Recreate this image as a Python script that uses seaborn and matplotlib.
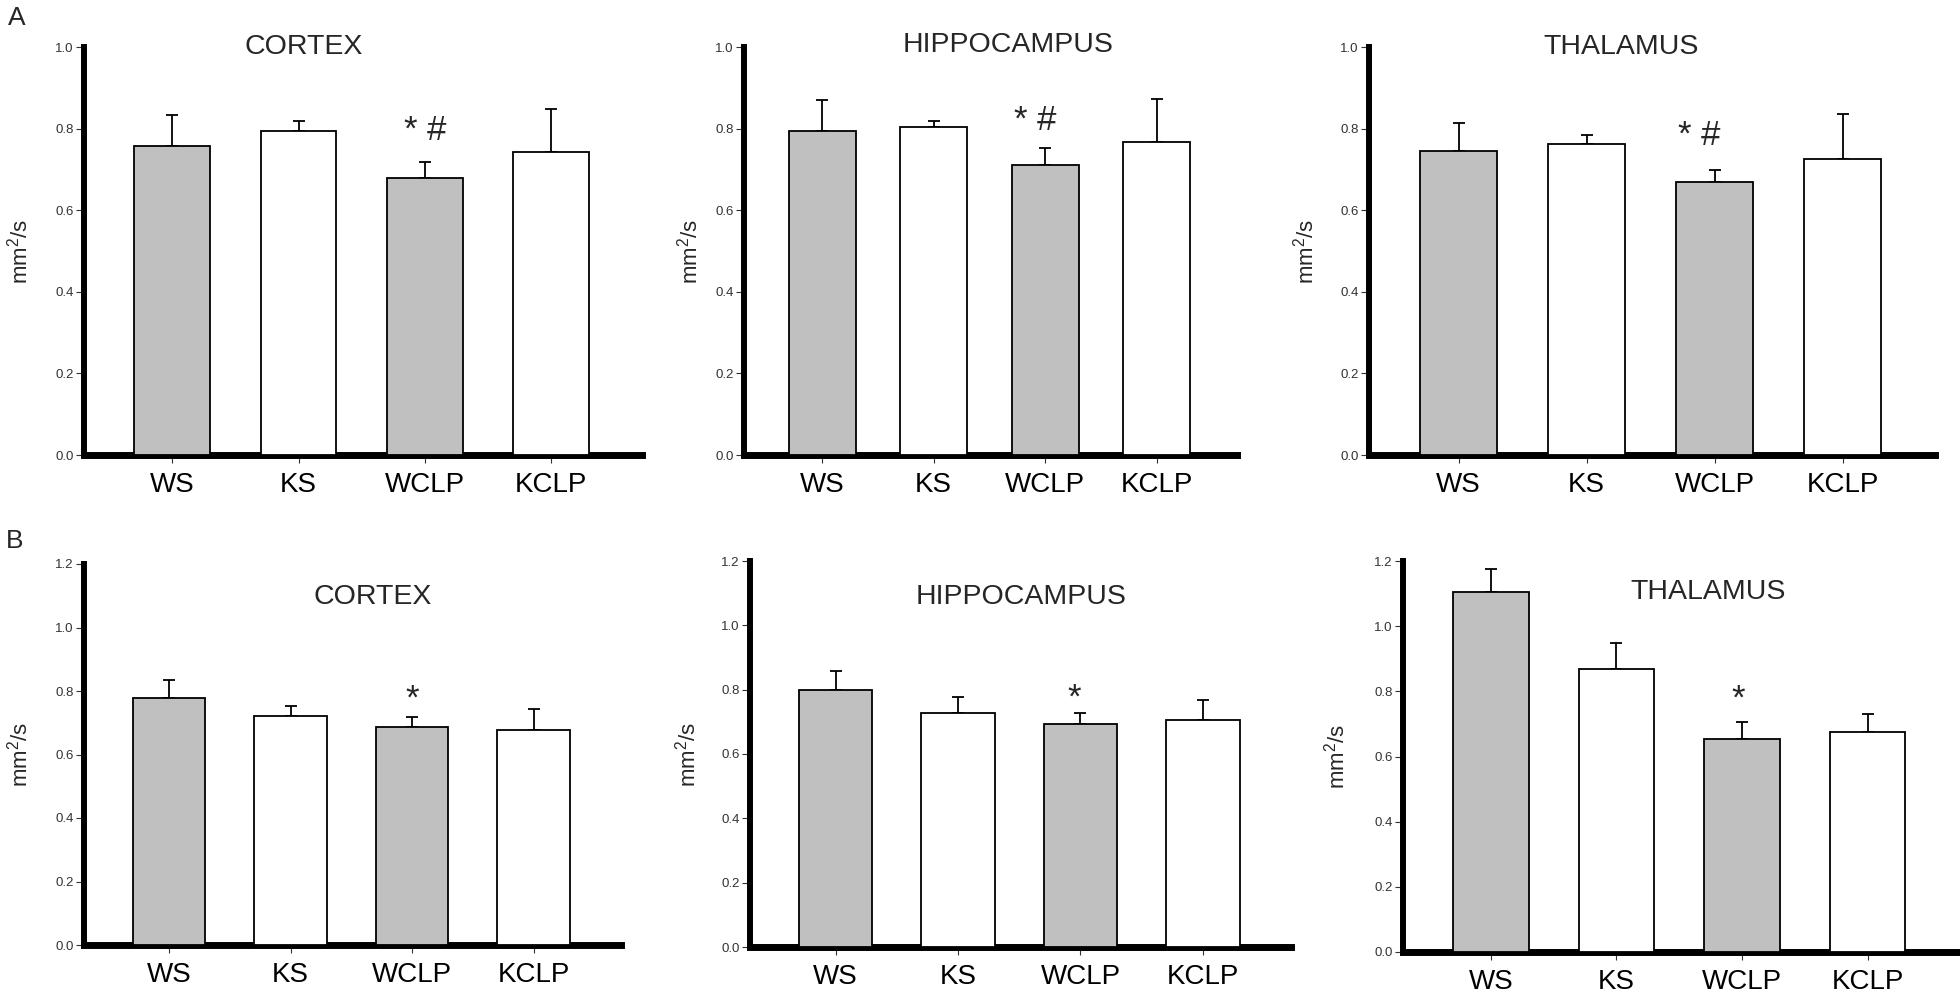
import numpy as np
import matplotlib
matplotlib.use('Agg')
import matplotlib.pyplot as plt
import seaborn as sns

# data (mean and upper error)
groups = ['WS', 'KS', 'WCLP', 'KCLP']
regions = ['CORTEX', 'HIPPOCAMPUS', 'THALAMUS']

a_cortex = [0.758, 0.794, 0.679, 0.743]
a_cortex_err = [0.076, 0.025, 0.040, 0.106]
a_hippo = [0.793, 0.803, 0.711, 0.767]
a_hippo_err = [0.077, 0.016, 0.041, 0.106]
a_thal = [0.746, 0.762, 0.670, 0.726]
a_thal_err = [0.067, 0.023, 0.028, 0.110]

b_cortex = [0.777, 0.721, 0.686, 0.677]
b_cortex_err = [0.057, 0.031, 0.031, 0.065]
b_hippo = [0.798, 0.728, 0.692, 0.707]
b_hippo_err = [0.061, 0.050, 0.037, 0.062]
b_thal = [1.106, 0.868, 0.655, 0.676]
b_thal_err = [0.068, 0.079, 0.051, 0.054]

a_marks = ['* #', '* #', '* #']
b_marks = ['*', '*', '*']

sns.set_style('ticks')
plt.rcParams['font.family'] = ['Liberation Sans', 'DejaVu Sans']
plt.rcParams['mathtext.default'] = 'regular'

W, H = 1960, 991
fig = plt.figure(figsize=(W / 100, H / 100), dpi=100)

pal = {'WS': '#c0c0c0', 'KS': 'white', 'WCLP': '#c0c0c0', 'KCLP': 'white'}

# pixel boxes: x0, x1, ytop, ybottom ; title (x, y) ; ylabel x ; mark offset, mark y
panels = [
    (a_cortex, a_cortex_err, regions[0], 1.0, (84, 642, 47, 455), (304, 47), 20, a_marks[0], 0.0, 0.772),
    (a_hippo, a_hippo_err, regions[1], 1.0, (744, 1237, 47, 455), (1008, 45), 690, a_marks[1], -0.085, 0.797),
    (a_thal, a_thal_err, regions[2], 1.0, (1369, 1935, 47, 455), (1621, 47), 1306, a_marks[2], -0.125, 0.759),
    (b_cortex, b_cortex_err, regions[0], 1.2, (84, 621, 564, 945), (373, 597), 20, b_marks[0], 0.0, 0.745),
    (b_hippo, b_hippo_err, regions[1], 1.2, (750, 1291, 561, 947), (1021, 597), 688, b_marks[1], -0.05, 0.743),
    (b_thal, b_thal_err, regions[2], 1.2, (1403, 1958, 561, 952), (1708, 592), 1337, b_marks[2], -0.03, 0.746),
]

for vals, errs, name, ymax, box, tpos, ylx, mark, moff, my in panels:
    x0, x1, yt, yb = box
    ax = fig.add_axes([x0 / W, 1 - yb / H, (x1 - x0) / W, (yb - yt) / H])
    sns.barplot(x=groups, y=vals, hue=groups, palette=pal, legend=False,
                edgecolor='black', linewidth=1.3, width=0.6, ax=ax, zorder=3)
    ax.errorbar(range(4), vals, yerr=[np.zeros(4), errs], fmt='none',
                ecolor='black', elinewidth=1.3, capsize=4, capthick=1.3, zorder=2)
    ax.set_xlim(-0.7, 3.72)
    ax.set_ylim(0, ymax)
    ax.set_yticks(np.arange(0, ymax + 0.01, 0.2))
    ax.set_yticklabels([f'{t:.1f}' for t in np.arange(0, ymax + 0.01, 0.2)])
    ax.tick_params(axis='y', direction='out', length=5.5, width=0.8, pad=2,
                   labelsize=9.5, colors='#333333')
    ax.tick_params(axis='x', direction='out', length=6, width=0.8, pad=6,
                   labelsize=20, labelcolor='black', color='#333333')
    for s in ['top', 'right']:
        ax.spines[s].set_visible(False)
    ax.spines['left'].set_linewidth(4.3)
    ax.spines['bottom'].set_linewidth(5)
    ax.spines['left'].set_color('black')
    ax.spines['bottom'].set_color('black')
    ax.spines['bottom'].set_capstyle('projecting')
    ax.set_xlabel('')
    ax.set_ylabel('mm$^2$/s', fontsize=16, va='center')
    ax.yaxis.set_label_coords((ylx - x0) / (x1 - x0), 0.5)
    fig.text(tpos[0] / W, 1 - tpos[1] / H, name, fontsize=20.5,
             ha='center', va='center')
    ax.text(2 + moff, my, mark, fontsize=25, ha='center', va='baseline')

fig.text(8 / W, 1 - 25 / H, 'A', fontsize=19, ha='left', va='baseline')
fig.text(6 / W, 1 - 548 / H, 'B', fontsize=19, ha='left', va='baseline')

fig.savefig('out.png', dpi=100, facecolor='white')
